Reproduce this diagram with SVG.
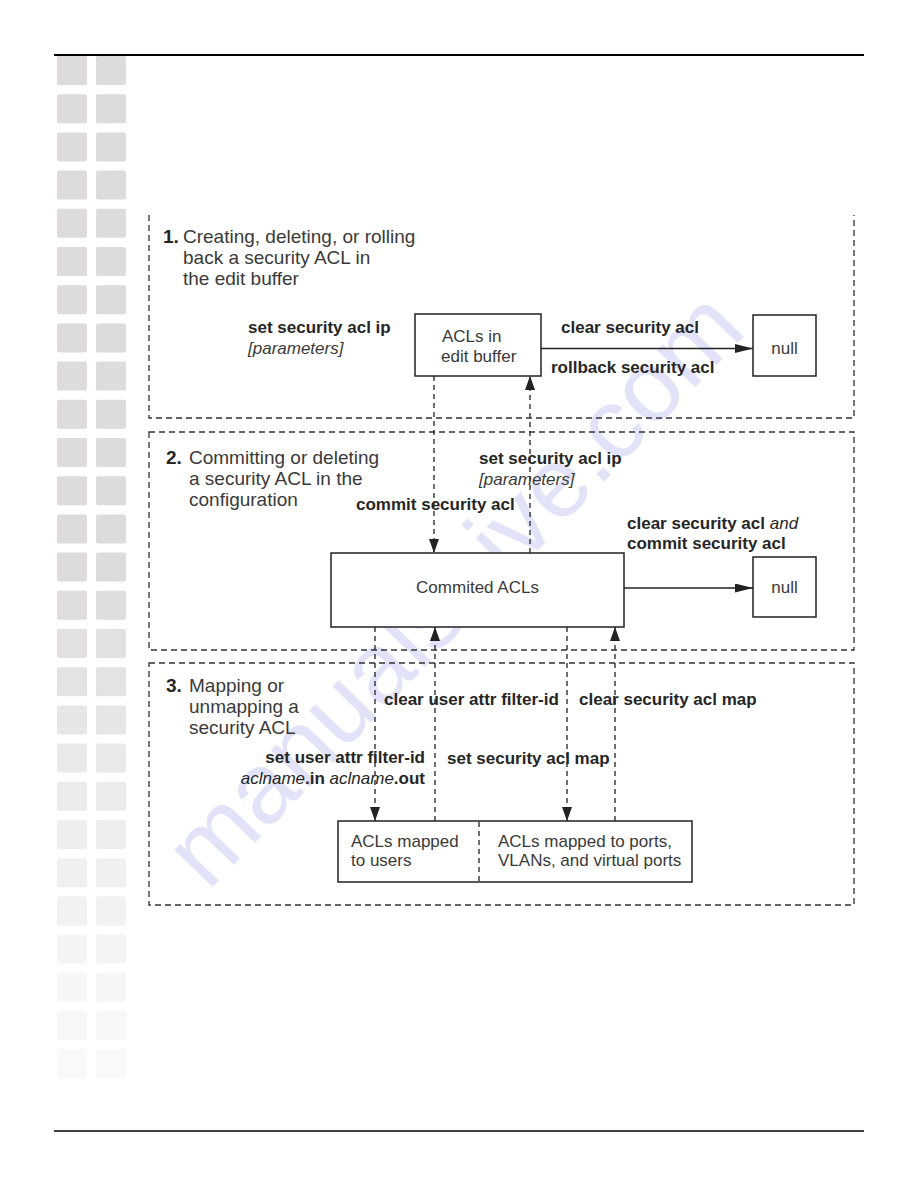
<svg xmlns="http://www.w3.org/2000/svg" width="918" height="1188" viewBox="0 0 918 1188">
<style>
.sq{stroke:none}
.rule{stroke:#000;fill:none}
.sec{fill:none;stroke:#333;stroke-width:1.3;stroke-dasharray:6 4}
.box{fill:#fff;stroke:#222;stroke-width:1.5}
.dc{fill:none;stroke:#222;stroke-width:1.3;stroke-dasharray:5 4}
.sc{fill:none;stroke:#222;stroke-width:1.5}
.t{font-family:"Liberation Sans",Arial,sans-serif;font-size:17px;fill:#3a3a3a}
.ti{font-size:19px}
.b{font-weight:bold;fill:#262626}
.i{font-style:italic}
.n{font-weight:normal}
.wm{font-family:"Liberation Sans",Arial,sans-serif;font-size:100px;fill:#cfcff5;opacity:0.6}
</style>
<defs>
<marker id="av" viewBox="0 0 14 10" markerUnits="userSpaceOnUse" markerWidth="14" markerHeight="10" refX="14" refY="5" orient="auto"><path d="M0,0 L14,5 L0,10 z" fill="#222"/></marker>
<marker id="ah" viewBox="0 0 18 9" markerUnits="userSpaceOnUse" markerWidth="18" markerHeight="9" refX="18" refY="4.5" orient="auto"><path d="M0,0 L18,4.5 L0,9 z" fill="#222"/></marker>
</defs>
<rect width="918" height="1188" fill="#fff"/>
<g id="squares" class="sq">
<g fill="#dddbdb"><rect x="57" y="56" width="30" height="29" rx="2"/><rect x="96" y="56" width="30" height="29" rx="2"/></g>
<g fill="#dddbdb"><rect x="57" y="94.2" width="30" height="29" rx="2"/><rect x="96" y="94.2" width="30" height="29" rx="2"/></g>
<g fill="#dddbdb"><rect x="57" y="132.4" width="30" height="29" rx="2"/><rect x="96" y="132.4" width="30" height="29" rx="2"/></g>
<g fill="#dddbdb"><rect x="57" y="170.6" width="30" height="29" rx="2"/><rect x="96" y="170.6" width="30" height="29" rx="2"/></g>
<g fill="#dddbdb"><rect x="57" y="208.8" width="30" height="29" rx="2"/><rect x="96" y="208.8" width="30" height="29" rx="2"/></g>
<g fill="#dddbdb"><rect x="57" y="247" width="30" height="29" rx="2"/><rect x="96" y="247" width="30" height="29" rx="2"/></g>
<g fill="#dddbdb"><rect x="57" y="285.2" width="30" height="29" rx="2"/><rect x="96" y="285.2" width="30" height="29" rx="2"/></g>
<g fill="#dddbdb"><rect x="57" y="323.4" width="30" height="29" rx="2"/><rect x="96" y="323.4" width="30" height="29" rx="2"/></g>
<g fill="#dddbdb"><rect x="57" y="361.6" width="30" height="29" rx="2"/><rect x="96" y="361.6" width="30" height="29" rx="2"/></g>
<g fill="#dddbdb"><rect x="57" y="399.8" width="30" height="29" rx="2"/><rect x="96" y="399.8" width="30" height="29" rx="2"/></g>
<g fill="#dddbdb"><rect x="57" y="438" width="30" height="29" rx="2"/><rect x="96" y="438" width="30" height="29" rx="2"/></g>
<g fill="#dddbdb"><rect x="57" y="476.2" width="30" height="29" rx="2"/><rect x="96" y="476.2" width="30" height="29" rx="2"/></g>
<g fill="#dddbdb"><rect x="57" y="514.4" width="30" height="29" rx="2"/><rect x="96" y="514.4" width="30" height="29" rx="2"/></g>
<g fill="#dddbdb"><rect x="57" y="552.6" width="30" height="29" rx="2"/><rect x="96" y="552.6" width="30" height="29" rx="2"/></g>
<g fill="#dfdddd"><rect x="57" y="590.8" width="30" height="29" rx="2"/><rect x="96" y="590.8" width="30" height="29" rx="2"/></g>
<g fill="#e2e0e0"><rect x="57" y="629" width="30" height="29" rx="2"/><rect x="96" y="629" width="30" height="29" rx="2"/></g>
<g fill="#e4e3e3"><rect x="57" y="667.2" width="30" height="29" rx="2"/><rect x="96" y="667.2" width="30" height="29" rx="2"/></g>
<g fill="#e7e6e6"><rect x="57" y="705.4" width="30" height="29" rx="2"/><rect x="96" y="705.4" width="30" height="29" rx="2"/></g>
<g fill="#eae9e9"><rect x="57" y="743.6" width="30" height="29" rx="2"/><rect x="96" y="743.6" width="30" height="29" rx="2"/></g>
<g fill="#ecebeb"><rect x="57" y="781.8" width="30" height="29" rx="2"/><rect x="96" y="781.8" width="30" height="29" rx="2"/></g>
<g fill="#eeeeee"><rect x="57" y="820" width="30" height="29" rx="2"/><rect x="96" y="820" width="30" height="29" rx="2"/></g>
<g fill="#f0f0f0"><rect x="57" y="858.2" width="30" height="29" rx="2"/><rect x="96" y="858.2" width="30" height="29" rx="2"/></g>
<g fill="#f2f2f2"><rect x="57" y="896.4" width="30" height="29" rx="2"/><rect x="96" y="896.4" width="30" height="29" rx="2"/></g>
<g fill="#f4f4f4"><rect x="57" y="934.6" width="30" height="29" rx="2"/><rect x="96" y="934.6" width="30" height="29" rx="2"/></g>
<g fill="#f6f6f6"><rect x="57" y="972.8" width="30" height="29" rx="2"/><rect x="96" y="972.8" width="30" height="29" rx="2"/></g>
<g fill="#f7f7f7"><rect x="57" y="1011" width="30" height="29" rx="2"/><rect x="96" y="1011" width="30" height="29" rx="2"/></g>
<g fill="#f9f9f9"><rect x="57" y="1049.2" width="30" height="29" rx="2"/><rect x="96" y="1049.2" width="30" height="29" rx="2"/></g>
</g>
<line class="rule" x1="54" y1="55" x2="864" y2="55" stroke-width="2"/>
<line class="rule" x1="54" y1="1131" x2="864" y2="1131" stroke-width="1.6"/>
<text class="wm" x="478" y="612" text-anchor="middle" transform="rotate(-46 478 612)">manualshive.com</text>
<g id="sections">
<path id="section1" class="sec" d="M149,215 V418 H854 V215"/>
<rect id="section2" class="sec" x="149" y="432" width="705" height="218"/>
<rect id="section3" class="sec" x="149" y="663" width="705" height="242"/>
</g>
<g id="section-titles" class="t ti">
<text x="163" y="243"><tspan class="b">1.</tspan></text>
<text x="183" y="243">Creating, deleting, or rolling</text>
<text x="183" y="264">back a security ACL in</text>
<text x="183" y="285">the edit buffer</text>
<text x="166" y="464"><tspan class="b">2.</tspan></text>
<text x="189" y="464">Committing or deleting</text>
<text x="189" y="485">a security ACL in the</text>
<text x="189" y="506">configuration</text>
<text x="166" y="692"><tspan class="b">3.</tspan></text>
<text x="189" y="692">Mapping or</text>
<text x="189" y="713">unmapping a</text>
<text x="189" y="734">security ACL</text>
</g>
<g id="connectors">
<path class="dc" d="M434,376 V553" marker-end="url(#av)"/>
<path class="dc" d="M530,553 V376" marker-end="url(#av)"/>
<path class="sc" d="M541,348.5 H753" marker-end="url(#ah)"/>
<path class="sc" d="M624,588 H753" marker-end="url(#ah)"/>
<path class="dc" d="M375,627 V821" marker-end="url(#av)"/>
<path class="dc" d="M435,821 V627" marker-end="url(#av)"/>
<path class="dc" d="M567,627 V821" marker-end="url(#av)"/>
<path class="dc" d="M615,821 V627" marker-end="url(#av)"/>
</g>
<g id="node-edit-buffer">
<rect class="box" x="415" y="314" width="126" height="62"/>
<text class="t" x="442" y="342">ACLs in</text>
<text class="t" x="441" y="362">edit buffer</text>
</g>
<g id="node-null-1">
<rect class="box" x="753" y="315" width="63" height="61"/>
<text class="t" x="784.5" y="354" text-anchor="middle">null</text>
</g>
<g id="node-committed">
<rect class="box" x="331" y="553" width="293" height="74"/>
<text class="t" x="477.5" y="593" text-anchor="middle">Commited ACLs</text>
</g>
<g id="node-null-2">
<rect class="box" x="753" y="557" width="63" height="60"/>
<text class="t" x="784.5" y="593" text-anchor="middle">null</text>
</g>
<g id="node-mapped">
<rect class="box" x="338" y="821" width="354" height="61"/>
<line class="dc" x1="479" y1="822" x2="479" y2="881"/>
<text class="t" x="351" y="847">ACLs mapped</text>
<text class="t" x="351" y="866">to users</text>
<text class="t" x="498" y="847">ACLs mapped to ports,</text>
<text class="t" x="498" y="866">VLANs, and virtual ports</text>
</g>
<g id="labels" class="t">
<text class="b" x="248" y="333">set security acl ip</text>
<text class="i" x="248" y="354">[parameters]</text>
<text class="b" x="561" y="333">clear security acl</text>
<text class="b" x="551" y="373">rollback security acl</text>
<text class="b" x="479" y="464">set security acl ip</text>
<text class="i" x="479" y="485">[parameters]</text>
<text class="b" x="356" y="510">commit security acl</text>
<text class="b" x="627" y="529">clear security acl <tspan class="i n">and</tspan></text>
<text class="b" x="627" y="549">commit security acl</text>
<text class="b" x="384" y="705">clear user attr filter-id</text>
<text class="b" x="579" y="705">clear security acl map</text>
<text class="b" x="425" y="763" text-anchor="end">set user attr filter-id</text>
<text class="b" x="425" y="784" text-anchor="end"><tspan class="i n">aclname</tspan>.in <tspan class="i n">aclname</tspan>.out</text>
<text class="b" x="447" y="764">set security acl map</text>
</g>
</svg>
